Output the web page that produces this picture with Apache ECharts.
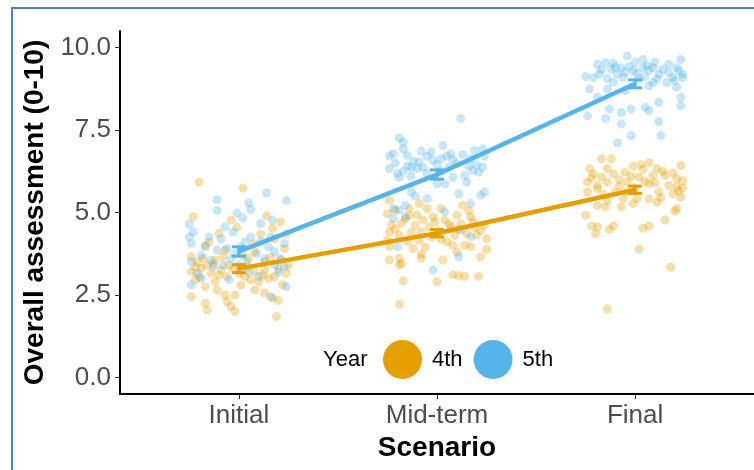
<!DOCTYPE html>
<html>
<head>
<meta charset="utf-8">
<script src="https://cdn.jsdelivr.net/npm/echarts@6/dist/echarts.min.js"></script>
<style>html,body{margin:0;padding:0;background:#fff}#c{width:754px;height:470px}</style>
</head>
<body>
<div id="c"></div>
<script>
const categories = ['Initial', 'Mid-term', 'Final'];
const yTicks = [0, 2.5, 5, 7.5, 10];
const years = ['4th', '5th'];
const colors = ['#E69F00', '#56B4E9'];
const means4 = [3.30, 4.37, 5.69];
const means5 = [3.82, 6.15, 8.90];
const se4 = [0.12, 0.11, 0.11];
const se5 = [0.14, 0.14, 0.12];

// jittered individual ratings: [jittered x position (1,2,3 = category), score]
const init4 = [[0.80,5.92],[1.02,5.74],[0.77,4.87],[0.96,4.77],[1.14,4.90],[1.21,4.72],[0.90,4.36],[1.11,4.34],[1.17,4.52],[0.83,3.96],[1.08,3.81],[1.23,3.91],[0.76,3.66],[0.82,3.61],[0.88,3.56],[0.92,3.66],[1.05,3.61],[1.13,3.51],[1.21,3.56],[0.76,3.21],[0.81,3.31],[0.86,3.16],[0.91,3.26],[0.94,3.06],[1.03,3.06],[1.08,3.21],[1.13,3.26],[1.18,3.06],[1.24,3.16],[0.78,2.96],[0.83,2.75],[0.89,2.65],[0.93,2.50],[0.98,2.50],[1.08,2.65],[1.13,2.56],[1.17,2.40],[1.22,2.81],[0.76,2.45],[0.83,2.25],[0.84,2.05],[0.94,2.30],[0.96,2.15],[0.98,2.00],[1.20,2.33],[1.19,1.85],[1.06,2.96],[0.95,3.40],[1.00,3.15],[0.87,3.45],[1.02,3.70],[1.15,3.00],[0.79,3.50],[1.10,2.90],[0.85,4.10],[1.18,4.20],[1.25,3.40],[0.78,3.35],[0.84,3.40],[0.90,3.10],[0.97,3.30],[1.04,3.35],[1.12,3.10],[1.20,3.30],[0.80,3.05],[0.88,2.90],[1.01,2.80],[1.16,3.65],[0.93,3.85],[1.07,4.05],[0.99,4.55],[1.24,4.35]];
const mid4 = [[1.76,5.37],[1.91,5.27],[2.02,5.12],[2.13,5.22],[1.75,4.97],[1.79,5.07],[1.86,5.12],[1.95,5.12],[2.10,4.92],[1.90,4.92],[1.98,4.87],[2.17,4.87],[1.77,4.62],[1.82,4.67],[1.89,4.62],[1.93,4.77],[1.99,4.72],[2.04,4.77],[2.07,4.56],[2.12,4.67],[2.18,4.72],[2.24,4.62],[1.76,4.41],[1.81,4.31],[1.92,4.41],[2.09,4.31],[2.15,4.36],[2.20,4.31],[1.75,4.16],[1.85,4.11],[1.91,4.16],[2.05,4.11],[2.08,4.01],[2.14,4.01],[2.17,3.96],[2.25,4.21],[1.76,3.96],[1.88,3.91],[2.25,3.89],[1.92,3.73],[1.92,3.61],[2.22,3.66],[1.76,3.56],[1.81,3.61],[1.81,3.41],[1.82,3.46],[2.03,3.56],[1.83,2.93],[2.00,2.90],[2.08,3.11],[2.11,3.09],[2.14,3.06],[2.21,3.06],[1.81,2.22],[1.84,4.80],[1.96,4.55],[2.01,4.45],[2.06,4.65],[2.11,4.50],[2.19,4.55],[1.79,4.50],[1.87,4.40],[1.97,4.25],[2.02,4.20],[2.22,4.45],[1.86,4.90],[2.16,5.05],[1.94,3.95],[2.10,3.80]];
const fin4 = [[2.83,6.63],[2.88,6.63],[3.07,6.51],[3.23,6.43],[2.77,6.33],[2.86,6.33],[2.99,6.40],[3.04,6.30],[3.11,6.33],[3.15,6.12],[2.79,6.17],[2.83,6.07],[2.89,6.17],[2.95,6.22],[3.02,6.07],[3.09,6.12],[3.21,6.02],[3.24,5.97],[2.76,5.92],[2.81,5.82],[2.86,5.92],[2.96,5.92],[3.07,5.87],[3.17,5.82],[3.21,5.77],[2.76,5.62],[2.81,5.72],[2.90,5.62],[2.96,5.62],[3.12,5.62],[3.19,5.57],[3.23,5.47],[2.86,5.37],[2.94,5.42],[3.01,5.42],[3.07,5.42],[3.11,5.32],[2.81,5.22],[2.85,5.17],[2.93,5.17],[2.99,5.27],[3.21,5.12],[3.20,5.04],[2.75,4.92],[3.15,4.77],[2.78,4.59],[2.81,4.56],[2.89,4.59],[2.87,4.49],[2.80,4.36],[3.04,4.52],[3.07,4.59],[3.02,3.89],[3.18,3.34],[2.86,2.08],[2.78,6.05],[2.92,6.00],[3.00,5.75],[3.05,5.95],[3.10,5.90],[3.14,6.25],[3.19,6.20],[3.24,5.75],[3.22,5.65],[2.84,5.55],[2.98,6.10],[3.13,5.45],[3.03,6.45],[2.92,5.80]];
const init5 = [[1.14,5.60],[0.89,5.39],[1.24,5.36],[1.05,5.29],[0.89,5.06],[1.06,5.09],[0.99,4.99],[0.75,4.65],[1.02,4.84],[0.93,4.56],[1.17,4.77],[1.11,4.67],[0.77,4.41],[0.85,4.26],[0.97,4.41],[0.75,4.26],[1.11,4.11],[1.16,4.26],[0.76,4.06],[0.89,3.86],[0.94,3.91],[1.03,4.11],[1.06,4.26],[1.23,4.06],[1.18,3.81],[0.76,3.51],[0.87,3.36],[0.92,3.41],[1.00,3.41],[1.18,3.41],[1.23,3.36],[0.76,2.81],[0.95,2.96],[1.24,2.75],[1.16,2.45],[0.79,3.16],[1.10,3.06],[0.81,3.70],[1.13,3.60],[0.98,3.75],[1.20,3.20],[0.83,4.00],[0.91,4.20],[1.01,3.95],[1.09,3.75],[1.15,3.95],[0.86,3.55],[0.96,3.60],[1.04,3.50],[1.21,3.60],[0.81,3.00],[1.05,3.20]];
const mid5 = [[2.12,7.85],[1.81,7.25],[1.83,7.13],[1.83,6.93],[1.76,6.71],[1.78,6.78],[1.85,6.73],[1.92,6.86],[1.97,6.83],[2.03,7.03],[2.07,6.78],[2.05,6.71],[2.19,6.88],[2.23,6.93],[2.24,6.71],[1.91,6.53],[1.98,6.58],[2.02,6.63],[2.10,6.48],[2.17,6.63],[1.85,6.40],[1.87,6.37],[1.90,6.33],[1.76,6.33],[1.93,6.37],[2.06,6.37],[2.23,6.37],[2.18,6.27],[1.80,6.18],[1.81,6.07],[1.87,6.10],[1.95,6.18],[2.08,6.07],[2.14,6.12],[2.21,6.22],[2.00,5.87],[2.04,5.87],[2.15,5.92],[1.87,5.62],[1.89,5.50],[1.95,5.42],[2.11,5.56],[2.22,5.52],[2.24,5.62],[2.17,5.27],[1.84,5.22],[1.78,5.12],[1.81,5.07],[1.84,4.87],[1.78,4.82],[2.04,5.02],[2.12,4.46],[2.17,4.26],[1.80,3.96],[2.11,3.66],[1.98,3.26],[1.88,6.55],[1.95,6.70],[2.00,6.45],[2.08,6.60],[2.13,6.75],[2.20,6.45],[1.79,6.50],[2.02,6.25],[2.16,6.40],[1.83,6.25]];
const fin5 = [[2.96,9.74],[3.04,9.64],[3.23,9.64],[2.81,9.49],[2.85,9.54],[2.89,9.52],[2.93,9.39],[2.97,9.42],[3.04,9.39],[3.09,9.39],[3.17,9.49],[3.21,9.39],[2.83,9.32],[2.88,9.34],[2.75,9.12],[2.79,9.09],[2.86,9.06],[2.91,9.19],[2.94,9.09],[3.01,9.22],[3.05,9.12],[3.12,9.19],[3.17,9.24],[3.24,9.09],[3.24,9.19],[3.09,8.94],[3.16,8.94],[3.21,8.79],[2.89,8.94],[2.86,8.74],[2.77,8.74],[2.95,8.69],[3.07,8.84],[3.23,8.49],[2.81,8.49],[3.12,8.34],[3.23,8.24],[2.87,8.14],[2.98,8.14],[3.05,8.19],[3.07,8.09],[2.76,7.93],[2.85,7.85],[2.93,8.03],[2.93,7.68],[3.12,7.75],[2.98,7.33],[3.13,7.33],[2.91,7.11],[2.99,9.30],[3.02,9.05],[3.07,9.30],[3.11,9.05],[3.14,9.35],[3.19,9.10],[3.22,9.30],[2.90,9.40],[2.95,9.25],[3.00,9.55],[3.10,9.55],[3.20,9.00],[2.82,9.20],[3.06,9.45]];

const FONT = '"Liberation Sans", Arial, sans-serif';
const pts = [init4.concat(mid4, fin4), init5.concat(mid5, fin5)];
const meansAll = [means4, means5];
const seAll = [se4, se5];

function errData(m, s) {
  return m.map((v, i) => [i + 1, v, v - s[i], v + s[i]]);
}
function errRender(color) {
  return function (params, api) {
    const x = api.value(0);
    const top = api.coord([x, api.value(3)]);
    const bot = api.coord([x, api.value(2)]);
    const hw = 7;
    const st = { stroke: color, lineWidth: 3 };
    return {
      type: 'group',
      children: [
        { type: 'line', shape: { x1: top[0], y1: top[1], x2: bot[0], y2: bot[1] }, style: st },
        { type: 'line', shape: { x1: top[0] - hw, y1: top[1], x2: top[0] + hw, y2: top[1] }, style: st },
        { type: 'line', shape: { x1: bot[0] - hw, y1: bot[1], x2: bot[0] + hw, y2: bot[1] }, style: st }
      ]
    };
  };
}

const series = [];
years.forEach((y, k) => {
  series.push({
    name: y, type: 'scatter', data: pts[k], symbolSize: 9, z: 2,
    itemStyle: { color: colors[k], opacity: 0.33 }, silent: true
  });
});
years.forEach((y, k) => {
  series.push({
    name: y, type: 'line', data: meansAll[k].map((v, i) => [i + 1, v]),
    showSymbol: false, symbol: 'none', z: 4,
    lineStyle: { color: colors[k], width: 4.5 }, itemStyle: { color: colors[k] }
  });
  series.push({
    name: y, type: 'custom', data: errData(meansAll[k], seAll[k]), z: 5,
    renderItem: errRender(colors[k]), itemStyle: { color: colors[k] }
  });
});

const chart = echarts.init(document.getElementById('c'), null, { renderer: 'canvas' });
chart.setOption({
  animation: false,
  backgroundColor: '#fff',
  textStyle: { fontFamily: FONT },
  grid: { left: 120, right: -2, top: 31, bottom: 76, containLabel: false },
  xAxis: {
    type: 'value', min: 0.4, max: 3.6,
    name: 'Scenario', nameLocation: 'middle', nameGap: 37,
    nameTextStyle: { fontSize: 28, fontWeight: 'bold', color: '#000', fontFamily: FONT },
    axisLine: { show: true, onZero: false, lineStyle: { color: '#000', width: 2 } },
    axisTick: { show: true, length: 5, customValues: [1, 2, 3], lineStyle: { color: '#333' } },
    axisLabel: {
      customValues: [1, 2, 3], margin: 9, fontSize: 26, color: '#4D4D4D', fontFamily: FONT,
      formatter: v => categories[Math.round(v) - 1]
    },
    splitLine: { show: false }
  },
  yAxis: {
    type: 'value', min: -0.5, max: 10.5,
    name: 'Overall assessment (0-10)', nameLocation: 'middle', nameGap: 70,
    nameTextStyle: { fontSize: 28, fontWeight: 'bold', color: '#000', fontFamily: FONT },
    axisLine: { show: true, onZero: false, lineStyle: { color: '#000', width: 2 } },
    axisTick: { show: true, length: 5, customValues: yTicks, lineStyle: { color: '#333' } },
    axisLabel: {
      customValues: yTicks, margin: 9, fontSize: 26, color: '#4D4D4D', fontFamily: FONT,
      formatter: v => v.toFixed(1)
    },
    splitLine: { show: false }
  },
  legend: {
    data: years, left: 378, top: 335, orient: 'horizontal',
    icon: 'circle', itemWidth: 39, itemHeight: 39, itemGap: 11,
    itemStyle: { opacity: 1 },
    textStyle: { fontSize: 22, color: '#000', fontFamily: FONT, padding: [0, 0, 0, 5] },
    selectedMode: false
  },
  graphic: [
    { type: 'text', left: 323, top: 349, style: { text: 'Year', fontSize: 22, fill: '#000', font: '22px ' + FONT } },
    { type: 'rect', shape: { x: 12, y: 8, width: 800, height: 500 }, style: { fill: 'none', stroke: '#4F7FBE', lineWidth: 2 }, silent: true, z: 100 }
  ],
  series: series
});
</script>
</body>
</html>
